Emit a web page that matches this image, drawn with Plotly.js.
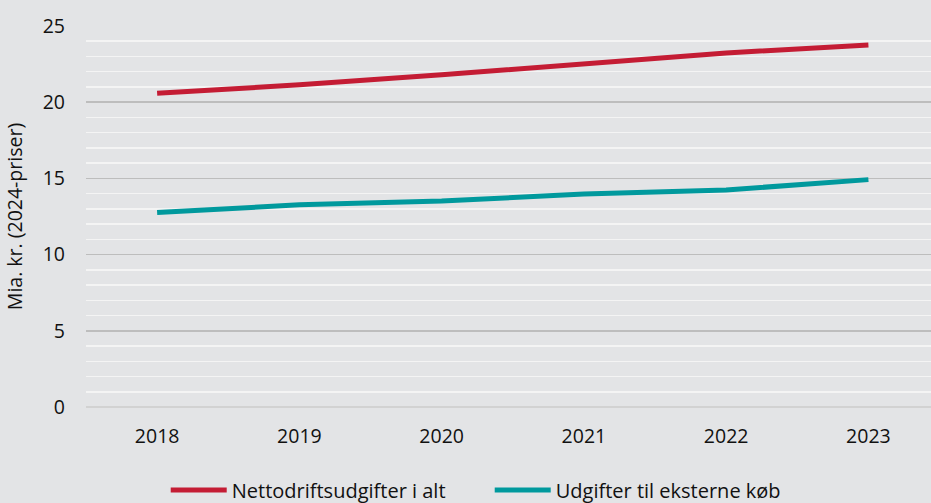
<!DOCTYPE html>
<html>
<head>
<meta charset="utf-8">
<script src="https://cdn.plot.ly/plotly-3.0.1.min.js"></script>
<style>html,body{margin:0;padding:0;background:#e3e4e6;}#chart{width:931px;height:503px;}</style>
</head>
<body>
<div id="chart"></div>
<script>
const years = ["2018", "2019", "2020", "2021", "2022", "2023"];
const nettodrift = [20.58, 21.14, 21.8, 22.53, 23.23, 23.76];
const eksterne = [12.76, 13.27, 13.51, 13.97, 14.24, 14.92];
const seriesNames = ["Nettodriftsudgifter i alt", "Udgifter til eksterne køb"];
const yTitle = "Mia. kr. (2024-priser)";

const font = "Open Sans, Noto Sans, sans-serif";
const traces = [
  {x: years, y: nettodrift, name: seriesNames[0], type: "scatter", mode: "lines",
   line: {color: "#c41c34", width: 5}},
  {x: years, y: eksterne, name: seriesNames[1], type: "scatter", mode: "lines",
   line: {color: "#00999d", width: 5}}
];
const layout = {
  width: 931, height: 503,
  paper_bgcolor: "#e3e4e6", plot_bgcolor: "#e3e4e6",
  margin: {l: 86, r: 0, t: 26, b: 96},
  font: {family: font, color: "#111", size: 19.5},
  showlegend: true,
  legend: {orientation: "h", xref: "container", yref: "container", x: 0.178, xanchor: "left",
           y: 0.026, yanchor: "middle", font: {size: 20, family: font}, bgcolor: "rgba(0,0,0,0)",
           itemwidth: 56, tracegroupgap: 0, entrywidth: 253, entrywidthmode: "pixels"},
  xaxis: {type: "category", range: [-0.5, 5.44], showgrid: false, zeroline: false, showline: false,
          ticks: "", tickfont: {size: 19.5}, ticklabelstandoff: 15, fixedrange: true},
  yaxis: {range: [0, 25], dtick: 5, showgrid: true, gridcolor: "#bdbdbd", gridwidth: 1.5,
          zeroline: true, zerolinecolor: "#d2d2d2", zerolinewidth: 1.5, showline: false,
          ticks: "", tickfont: {size: 19.5}, ticklabelstandoff: 20,
          minor: {dtick: 1, showgrid: true, gridcolor: "#f4f4f4", gridwidth: 1.5},
          title: {text: yTitle, font: {size: 19.5}, standoff: 14}}
};
Plotly.newPlot("chart", traces, layout, {displayModeBar: false, staticPlot: true});
</script>
</body>
</html>
